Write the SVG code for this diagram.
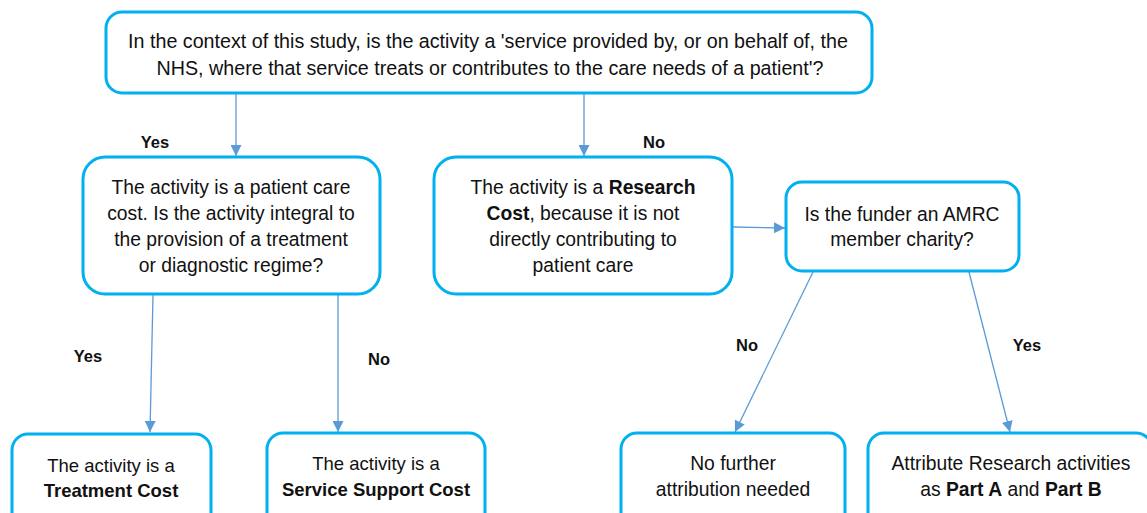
<svg xmlns="http://www.w3.org/2000/svg" width="1147" height="513" viewBox="0 0 1147 513">
<defs>
<style>
.box{fill:#fff;stroke:#00b0f0;stroke-width:3}
.t{font-family:"Liberation Sans",Arial,sans-serif;font-size:18.5px;fill:#111;text-anchor:middle}
.m{font-size:19.3px}
.L{font-size:19.7px}
.b{font-weight:bold}
.lbl{font-family:"Liberation Sans",Arial,sans-serif;font-size:16.5px;font-weight:bold;fill:#111;text-anchor:middle}
.c{fill:none;stroke:#5b9bd5;stroke-width:1.3}
</style>
<marker id="ah" viewBox="0 0 10 10" refX="10" refY="5" markerWidth="11" markerHeight="11" markerUnits="userSpaceOnUse" orient="auto">
<path d="M0,0 L10,5 L0,10 z" fill="#5b9bd5"/>
</marker>
</defs>
<rect width="1147" height="513" fill="#fff"/>

<g id="connectors">
<line class="c" x1="236" y1="94" x2="236" y2="156" marker-end="url(#ah)"/>
<line class="c" x1="584" y1="94" x2="584" y2="156" marker-end="url(#ah)"/>
<line class="c" x1="733" y1="227" x2="785" y2="228" marker-end="url(#ah)"/>
<line class="c" x1="153" y1="295" x2="150" y2="432" marker-end="url(#ah)"/>
<line class="c" x1="338" y1="295" x2="338" y2="432" marker-end="url(#ah)"/>
<line class="c" x1="813" y1="272" x2="735" y2="432" marker-end="url(#ah)"/>
<line class="c" x1="969" y1="272" x2="1010" y2="432" marker-end="url(#ah)"/>
<text class="lbl" x="155" y="148">Yes</text>
<text class="lbl" x="654" y="148">No</text>
<text class="lbl" x="88" y="362">Yes</text>
<text class="lbl" x="379" y="365">No</text>
<text class="lbl" x="747" y="351">No</text>
<text class="lbl" x="1027" y="351">Yes</text>
</g>

<g id="n-top">
<rect class="box" x="106" y="12" width="766" height="81" rx="16"/>
<text class="t L" x="488" y="48">In the context of this study, is the activity a 'service provided by, or on behalf of, the</text>
<text class="t L" x="490" y="75">NHS, where that service treats or contributes to the care needs of a patient'?</text>
</g>

<g id="n-patient">
<rect class="box" x="83" y="157" width="297" height="137" rx="22"/>
<text class="t m" x="231" y="194">The activity is a patient care</text>
<text class="t m" x="231" y="220">cost. Is the activity integral to</text>
<text class="t m" x="231" y="246">the provision of a treatment</text>
<text class="t m" x="231" y="272">or diagnostic regime?</text>
</g>

<g id="n-research">
<rect class="box" x="434" y="157" width="298" height="137" rx="22"/>
<text class="t m" x="583" y="194">The activity is a <tspan class="b">Research</tspan></text>
<text class="t m" x="583" y="220"><tspan class="b">Cost</tspan>, because it is not</text>
<text class="t m" x="583" y="246">directly contributing to</text>
<text class="t m" x="583" y="272">patient care</text>
</g>

<g id="n-amrc">
<rect class="box" x="786" y="182" width="233" height="89" rx="16"/>
<text class="t m" x="902" y="221">Is the funder an AMRC</text>
<text class="t m" x="902" y="246">member charity?</text>
</g>

<g id="n-treatment">
<rect class="box" x="12" y="434" width="199" height="110" rx="16"/>
<text class="t" x="111" y="472">The activity is a</text>
<text class="t b" x="111" y="497">Treatment Cost</text>
</g>

<g id="n-support">
<rect class="box" x="267" y="433" width="218" height="110" rx="16"/>
<text class="t" x="376" y="470">The activity is a</text>
<text class="t b" x="376" y="496">Service Support Cost</text>
</g>

<g id="n-nofurther">
<rect class="box" x="621" y="433" width="224" height="110" rx="16"/>
<text class="t m" x="733" y="470">No further</text>
<text class="t m" x="733" y="496">attribution needed</text>
</g>

<g id="n-attribute">
<rect class="box" x="868" y="433" width="284" height="110" rx="16"/>
<text class="t m" x="1011" y="470">Attribute Research activities</text>
<text class="t m" x="1011" y="496">as <tspan class="b">Part A</tspan> and <tspan class="b">Part B</tspan></text>
</g>
</svg>
